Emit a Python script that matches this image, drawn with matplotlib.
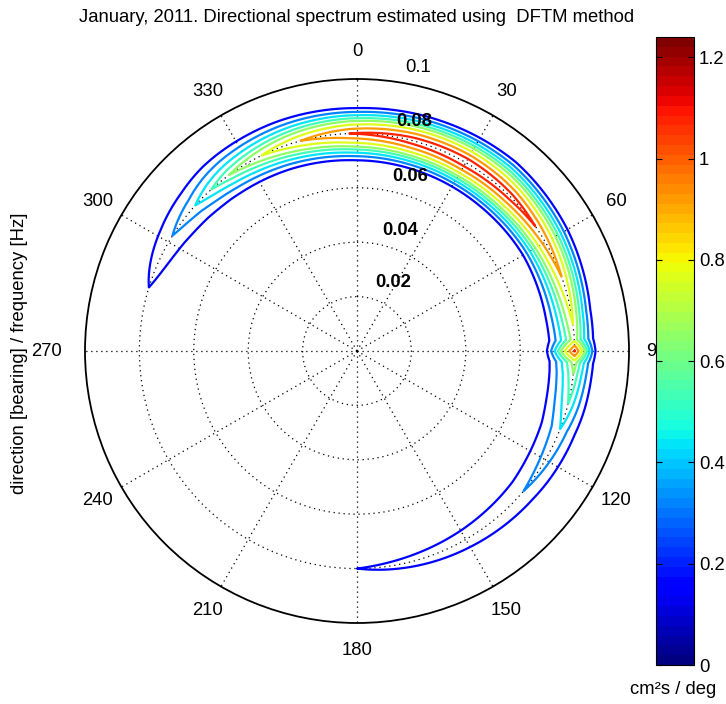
import numpy as np
import matplotlib.pyplot as plt
from matplotlib import colors, cm

plt.rcParams['font.family'] = ['Liberation Sans', 'DejaVu Sans']

# ridge of the spectrum
# bearing in degrees, unwrapped so that north sits in the middle (-73 == 287 deg)
ridge_bearing = [-80, -73, -58, -48, -42, -36, -26, -15, -2, 15, 30, 45, 55, 70,
                 83, 87, 90, 93, 96, 104, 111, 130, 150, 180, 186]
ridge_peak = [0.0, 0.17, 0.31, 0.43, 0.54, 0.64, 0.77, 0.92, 1.08, 1.20, 1.24, 1.18,
              1.08, 0.92, 0.77, 0.72, 1.10, 0.70, 0.64, 0.54, 0.43, 0.31, 0.25, 0.17, 0.0]
ridge_freq = 0.080  # Hz, peak frequency along the ridge

# spread of the ridge (Hz from the peak to zero energy), below / above the peak
width_bearing = [-73, -40, -20, 0, 20, 40, 60, 80, 100, 130, 180]
width_low = [0.0117, 0.0106, 0.0110, 0.0117, 0.0118, 0.0118, 0.0114, 0.0121, 0.0120, 0.0117, 0.0117]
width_high = [0.0100, 0.0118, 0.0116, 0.0110, 0.0117, 0.0125, 0.0112, 0.0090, 0.0092, 0.0100, 0.0100]

contour_levels = [0.17, 0.31, 0.43, 0.54, 0.64, 0.77, 0.92, 1.08]
clim = (0, 1.24)
cbar_ticks = [0, 0.2, 0.4, 0.6, 0.8, 1.0, 1.2]

ring_values = [0.02, 0.04, 0.06, 0.08]
spoke_angles = list(range(0, 360, 30))

title = "January, 2011. Directional spectrum estimated using  DFTM method"
ylabel = "direction [bearing] / frequency [Hz]"
cbar_label = "cm\u00b2s / deg"
fs = 13.3

# field on a fine polar grid
theta = np.linspace(0, 2 * np.pi, 1441)
freq = np.linspace(0, 0.1, 801)
T, F = np.meshgrid(theta, freq)
b_rel = (np.degrees(T) + 90) % 360 - 90
P = np.interp(b_rel, ridge_bearing, ridge_peak)
h_lo = np.interp(b_rel, width_bearing, width_low)
h_hi = np.interp(b_rel, width_bearing, width_high)
d = F - ridge_freq
h = np.where(d > 0, h_hi, h_lo)
S = P * np.clip(1 - np.abs(d) / h, 0, None)

cmap = plt.get_cmap('jet', 64)
norm = colors.Normalize(*clim)

fig = plt.figure(figsize=(7.26, 7.04), dpi=100)
ax = fig.add_axes([85 / 726, 81 / 704, 544 / 726, 544 / 704], projection='polar')
ax.set_theta_zero_location('N')
ax.set_theta_direction(-1)
ax.set_ylim(0, 0.1)
ax.set_rgrids(ring_values, labels=[])
ax.set_thetagrids(spoke_angles, labels=[])
ax.grid(True, color='k', linestyle=(0, (1, 3)), linewidth=0.9)
ax.tick_params(length=0)
ax.spines['polar'].set_linewidth(1.3)

ax.contour(T, F, S, levels=contour_levels, cmap=cmap, norm=norm, linewidths=1.6)

# angle labels round the rim (the colorbar hides half of "90", as in the original)
for a in spoke_angles:
    r_lab = 0.114 if a == 270 else 0.11
    ax.text(np.radians(a), r_lab, str(a), ha='center', va='center', fontsize=fs)

ax.text(np.radians(12.2), 0.1065, '0.1', ha='center', va='center', fontsize=fs)
ring_label_pos = [(27.9, 0.0283), (19.6, 0.0472), (16.9, 0.0669), (13.9, 0.0871)]
for rv, (ang, rr) in zip(ring_values, ring_label_pos):
    ax.text(np.radians(ang), rr, f"{rv:g}", ha='center', va='center',
            fontsize=fs, fontweight='bold')

fig.text(357 / 726, 1 - 18 / 704, title, ha='center', va='center', fontsize=fs)
fig.text(20 / 726, 351 / 704, ylabel, rotation=90, ha='center', va='center', fontsize=fs)

cax = fig.add_axes([656 / 726, 39 / 704, 38 / 726, 628 / 704])
cb = fig.colorbar(cm.ScalarMappable(norm=norm, cmap=cmap), cax=cax)
cb.set_ticks(cbar_ticks)
cb.set_ticklabels([f"{t:g}" for t in cbar_ticks])
cax.tick_params(direction='in', left=True, right=True, length=4, labelsize=fs)
cb.outline.set_linewidth(0.8)
fig.text(673 / 726, 1 - 690 / 704, cbar_label, ha='center', va='center', fontsize=fs)

fig.savefig('out.png', dpi=100)
